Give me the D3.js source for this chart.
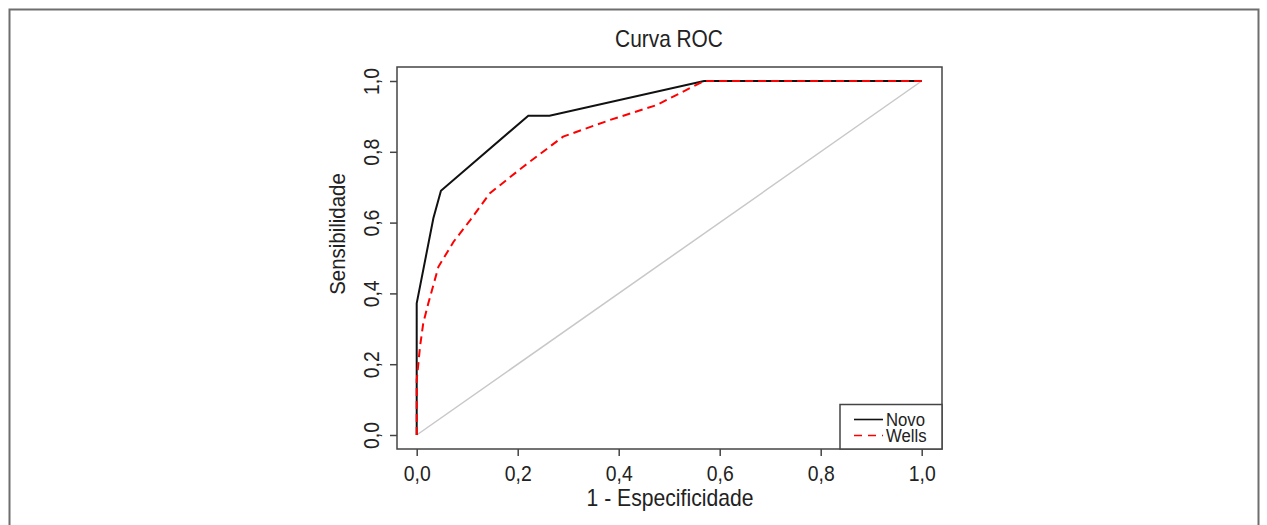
<!DOCTYPE html>
<html>
<head>
<meta charset="utf-8">
<script src="https://cdn.jsdelivr.net/npm/d3@7"></script>
<style>
  body { margin: 0; background: #fff; }
  svg text { font-family: "Liberation Sans", Arial, sans-serif; fill: #222; }
</style>
</head>
<body>
<svg id="chart" width="1267" height="525"></svg>
<script>
// ROC points (1 - especificidade, sensibilidade)
let novoFpr = [0, 0, 0.033, 0.048, 0.221, 0.263, 0.569, 1];
let novoSens = [0, 0.372, 0.612, 0.69, 0.902, 0.902, 1, 1];

let wellsFpr = [0, 0, 0.0066, 0.013, 0.023, 0.043, 0.073, 0.106, 0.145, 0.211, 0.29, 0.383, 0.475, 0.569, 1];
let wellsSens = [0, 0.155, 0.25, 0.316, 0.372, 0.475, 0.546, 0.607, 0.683, 0.758, 0.843, 0.89, 0.932, 1, 1];

let tickValues = [0, 0.2, 0.4, 0.6, 0.8, 1.0];
let tickLabels = ["0,0", "0,2", "0,4", "0,6", "0,8", "1,0"];
let seriesNames = ["Novo", "Wells"];

// narrow-looking text: scale glyphs horizontally around the anchor point
function narrowText(parent, px, py, rot, size, sx, str) {
    return parent.append("text")
        .attr("transform", "translate(" + px + "," + py + ") rotate(" + rot + ") scale(" + sx + ",1)")
        .attr("text-anchor", "middle")
        .attr("font-size", size)
        .text(str);
}

function drawChart() {
    let svg = d3.select("#chart");

    // outer frame (bottom edge is outside the picture)
    svg.append("path")
        .attr("d", "M9.5,530 L9.5,9.5 L1258.5,9.5 L1258.5,530")
        .attr("fill", "none")
        .attr("stroke", "#6e6e6e")
        .attr("stroke-width", 2);

    let box = {left: 397, right: 942, top: 67, bottom: 449};
    let x = d3.scaleLinear().domain([0, 1]).range([416.7, 921.7]);
    let y = d3.scaleLinear().domain([0, 1]).range([435, 81]);

    // diagonal reference
    svg.append("line")
        .attr("x1", x(0)).attr("y1", y(0))
        .attr("x2", x(1)).attr("y2", y(1))
        .attr("stroke", "#c8c8c8")
        .attr("stroke-width", 1.5);

    let line = d3.line().x(d => x(d[0])).y(d => y(d[1]));

    let wells = wellsFpr.map((v, i) => [v, wellsSens[i]]);
    let novo = novoFpr.map((v, i) => [v, novoSens[i]]);

    svg.append("path")
        .datum(novo)
        .attr("d", line)
        .attr("fill", "none")
        .attr("stroke", "#111")
        .attr("stroke-width", 2);

    svg.append("path")
        .datum(wells)
        .attr("d", line)
        .attr("fill", "none")
        .attr("stroke", "#ff0000")
        .attr("stroke-width", 2)
        .attr("stroke-dasharray", "8,5");

    // plot box
    svg.append("rect")
        .attr("x", box.left).attr("y", box.top)
        .attr("width", box.right - box.left)
        .attr("height", box.bottom - box.top)
        .attr("fill", "none")
        .attr("stroke", "#444")
        .attr("stroke-width", 1.5);

    // axes
    let xAxis = d3.axisBottom(x)
        .tickValues(tickValues)
        .tickFormat((d, i) => tickLabels[i])
        .tickSize(7);
    let gx = svg.append("g")
        .attr("transform", "translate(0," + box.bottom + ")")
        .call(xAxis);
    gx.select(".domain").remove();
    gx.selectAll("line").attr("stroke", "#444").attr("stroke-width", 1.5);
    gx.selectAll("text")
        .attr("font-size", 22)
        .attr("fill", "#222")
        .attr("y", 0).attr("dy", null)
        .attr("transform", "translate(0,32) scale(0.88,1)");

    let yAxis = d3.axisLeft(y)
        .tickValues(tickValues)
        .tickFormat((d, i) => tickLabels[i])
        .tickSize(7);
    let gy = svg.append("g")
        .attr("transform", "translate(" + box.left + ",0)")
        .call(yAxis);
    gy.select(".domain").remove();
    gy.selectAll("line").attr("stroke", "#444").attr("stroke-width", 1.5);
    gy.selectAll("text")
        .attr("font-size", 22)
        .attr("fill", "#222")
        .attr("x", 0).attr("y", 0)
        .attr("text-anchor", "middle")
        .attr("dy", "0.35em")
        .attr("transform", "translate(-26,0) rotate(-90) scale(0.88,1)");

    // titles
    narrowText(svg, 669, 47, 0, 24, 0.87, "Curva ROC");
    narrowText(svg, 670, 506, 0, 23, 0.92, "1 - Especificidade");
    narrowText(svg, 345, 234, -90, 22, 0.93, "Sensibilidade");

    // legend
    let lg = svg.append("g");
    lg.append("rect")
        .attr("x", 840).attr("y", 404.5)
        .attr("width", box.right - 840)
        .attr("height", box.bottom - 404.5)
        .attr("fill", "#fff")
        .attr("stroke", "#444")
        .attr("stroke-width", 1.5);
    let colors = ["#111", "#ff0000"];
    let dashes = [null, "8,6"];
    seriesNames.forEach((name, i) => {
        let ly = 419.5 + i * 16;
        lg.append("line")
            .attr("x1", 854).attr("x2", 883)
            .attr("y1", ly).attr("y2", ly)
            .attr("stroke", colors[i])
            .attr("stroke-width", 1.6)
            .attr("stroke-dasharray", dashes[i]);
        lg.append("text")
            .attr("transform", "translate(886," + (ly + 6.5) + ") scale(0.88,1)")
            .attr("font-size", 19)
            .text(name);
    });
}

drawChart();
</script>
</body>
</html>
